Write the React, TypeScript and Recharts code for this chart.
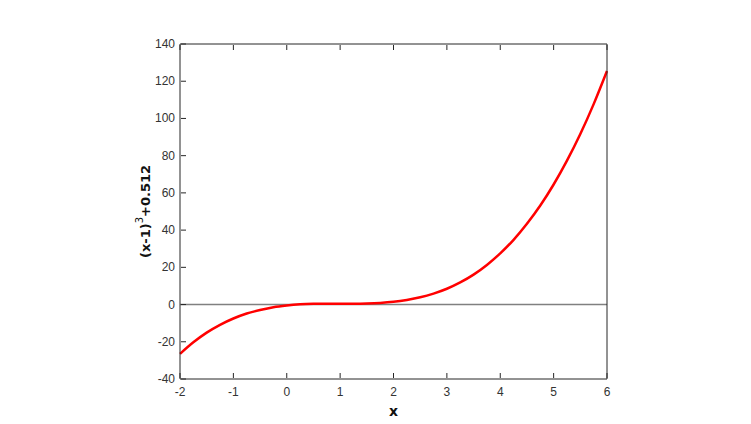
import React from 'react';
import { LineChart, Line, XAxis, YAxis, ReferenceLine } from 'recharts';

// values
const xValues = [-2, -1.75, -1.5, -1.25, -1, -0.75, -0.5, -0.25, 0, 0.25, 0.5, 0.75, 1, 1.25, 1.5, 1.75, 2, 2.25, 2.5, 2.75, 3, 3.25, 3.5, 3.75, 4, 4.25, 4.5, 4.75, 5, 5.25, 5.5, 5.75, 6];
const yValues = [-26.5, -20.3, -15.1, -10.9, -7.5, -4.8, -2.9, -1.4, -0.5, 0.1, 0.4, 0.5, 0.5, 0.5, 0.6, 0.9, 1.5, 2.5, 3.9, 5.9, 8.5, 11.9, 16.1, 21.3, 27.5, 34.8, 43.4, 53.2, 64.5, 77.3, 91.6, 107.7, 125.5];
const xTicks = [-2, -1, 0, 1, 2, 3, 4, 5, 6];
const yTicks = [-40, -20, 0, 20, 40, 60, 80, 100, 120, 140];

const data = xValues.map((x, i) => ({ x, y: yValues[i] }));

const AXIS = '#262626';
const TEXT = '#333';
const FONT = '"Liberation Sans", Arial, sans-serif';
const LABEL_FONT = '"DejaVu Sans", sans-serif';

const BottomTick = (props: any) => {
  const { x, y, payload } = props;
  return (
    <g>
      <line x1={x} y1={y - 1} x2={x} y2={y - 6} stroke={AXIS} />
      <text x={x} y={y + 17} textAnchor="middle" fontSize={12} fill={TEXT} fontFamily={FONT}>
        {payload.value}
      </text>
    </g>
  );
};

const LeftTick = (props: any) => {
  const { x, y, payload } = props;
  return (
    <g>
      <line x1={x + 1} y1={y} x2={x + 6} y2={y} stroke={AXIS} />
      <text x={x - 5} y={y + 4} textAnchor="end" fontSize={12} fill={TEXT} fontFamily={FONT}>
        {payload.value}
      </text>
    </g>
  );
};

const TopTick = (props: any) => {
  const { x, y } = props;
  return <line x1={x} y1={y + 1} x2={x} y2={y + 6} stroke={AXIS} />;
};

const RightTick = (props: any) => {
  const { x, y } = props;
  return <line x1={x - 1} y1={y} x2={x - 6} y2={y} stroke={AXIS} />;
};

const YLabel = (props: any) => {
  const vb = props.viewBox || {};
  const cx = 150;
  const cy = vb.y + vb.height / 2;
  return (
    <text
      x={cx}
      y={cy}
      transform={`rotate(-90, ${cx}, ${cy})`}
      textAnchor="middle"
      fontSize={13}
      fontWeight="bold"
      fill="#111"
      fontFamily={LABEL_FONT}
    >
      (x-1)
      <tspan fontSize={10} fontWeight="normal" dy={-7}>3</tspan>
      <tspan dy={7}>+0.512</tspan>
    </text>
  );
};

export default function App() {
  return (
    <div style={{ position: 'fixed', left: 0, top: 0, width: 751, height: 424, background: '#fff' }}>
      <LineChart width={751} height={424} data={data} margin={{ top: 43, right: 143, bottom: 44, left: 179 }}>
        <XAxis
          dataKey="x"
          type="number"
          domain={[-2, 6]}
          ticks={xTicks}
          height={1}
          tickSize={0}
          tickMargin={0}
          tickLine={false}
          tick={<BottomTick />}
          axisLine={{ stroke: AXIS }}
          interval={0}
          label={{ value: 'x', position: 'bottom', offset: 26, fontSize: 14, fontWeight: 'bold', fill: '#111', fontFamily: LABEL_FONT }}
        />
        <XAxis
          xAxisId="top"
          dataKey="x"
          type="number"
          orientation="top"
          domain={[-2, 6]}
          ticks={xTicks}
          height={1}
          tickSize={0}
          tickMargin={0}
          tickLine={false}
          tick={<TopTick />}
          axisLine={{ stroke: AXIS }}
          interval={0}
        />
        <YAxis
          type="number"
          domain={[-40, 140]}
          ticks={yTicks}
          width={1}
          tickSize={0}
          tickMargin={0}
          tickLine={false}
          tick={<LeftTick />}
          axisLine={{ stroke: AXIS }}
          interval={0}
          label={<YLabel />}
        />
        <YAxis
          yAxisId="right"
          orientation="right"
          type="number"
          domain={[-40, 140]}
          ticks={yTicks}
          width={1}
          tickSize={0}
          tickMargin={0}
          tickLine={false}
          tick={<RightTick />}
          axisLine={{ stroke: AXIS }}
          interval={0}
        />
        <ReferenceLine y={0} stroke="#808080" strokeWidth={1.5} />
        <Line
          type="monotone"
          dataKey="y"
          stroke="#ff0000"
          strokeWidth={2.5}
          dot={false}
          isAnimationActive={false}
        />
      </LineChart>
    </div>
  );
}
